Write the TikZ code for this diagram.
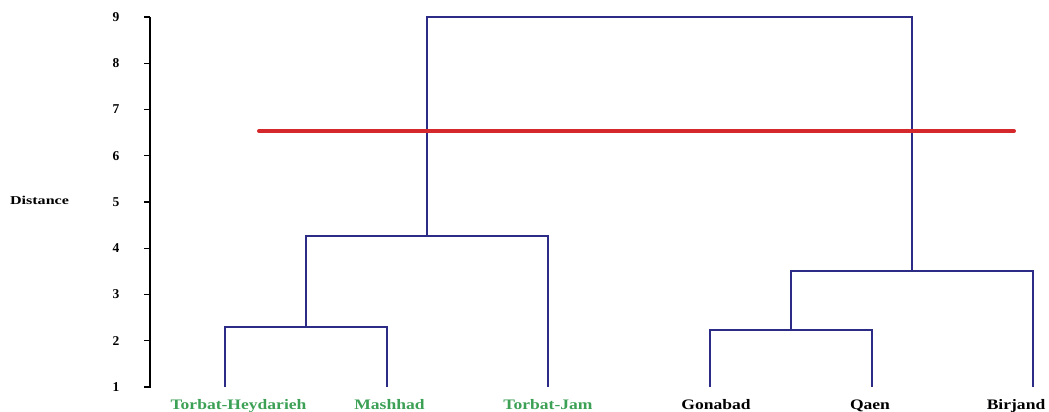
\documentclass[tikz,border=0pt]{standalone}
\usepackage{graphicx}
\usepackage{fontspec}
\setmainfont{Liberation Serif}
\definecolor{dblue}{RGB}{44,44,135}
\definecolor{lgreen}{RGB}{60,160,85}
\definecolor{cred}{RGB}{212,40,44}
\newcommand{\wlab}[1]{\scalebox{1.21}[1]{#1}}
\begin{document}
\begin{tikzpicture}[x=1pt,y=-1pt,
  tree/.style={draw=dblue,line width=1.8pt},
  axisline/.style={draw=black,line width=1.8pt},
  cutline/.style={draw=cred,line width=4pt,line cap=round},
  leaflab/.style={font=\fontsize{14.5}{15}\selectfont\bfseries,inner sep=0pt,anchor=base},
  ticklab/.style={font=\fontsize{13.5}{14}\selectfont\bfseries,inner sep=0pt,anchor=center}]
\useasboundingbox (0,0) rectangle (1049,412);
% axis
\coordinate (ax0) at (150,388);
\coordinate (ax1) at (150,17);
\draw[axisline] (ax0) -- (ax1);
\foreach \v in {1,...,9}{
  \pgfmathsetmacro{\yy}{387-(\v-1)*46.25}
  \coordinate (t\v) at (150,\yy);
  \coordinate (s\v) at (144,\yy);
  \draw[axisline,line width=1.2pt] (s\v) -- (t\v);
  \node[ticklab] (n\v) at (116,\yy) {\v};
}
\node[font=\fontsize{12}{12}\selectfont\bfseries,inner sep=0pt] (dist) at (39.5,200) {\scalebox{1.34}[1]{Distance}};
% leaves
\coordinate (L1) at (225,387);
\coordinate (L2) at (387,387);
\coordinate (L3) at (548,387);
\coordinate (L4) at (710,387);
\coordinate (L5) at (872,387);
\coordinate (L6) at (1033,387);
% merges
\coordinate (m12) at (306,327);
\coordinate (m123) at (427,236);
\coordinate (m45) at (791,330);
\coordinate (m456) at (912,271);
\coordinate (top) at (669.5,17);
\draw[tree] (L1) |- (m12) -| (L2);
\draw[tree] (m12) |- (m123) -| (L3);
\draw[tree] (L4) |- (m45) -| (L5);
\draw[tree] (m45) |- (m456) -| (L6);
\draw[tree] (m123) |- (top) -| (m456);
% cut line
\coordinate (r0) at (259,131);
\coordinate (r1) at (1014,131);
\draw[cutline] (r0) -- (r1);
% labels
\node[leaflab,text=lgreen] (lab1) at (238.5,409.5) {\wlab{Torbat-Heydarieh}};
\node[leaflab,text=lgreen] (lab2) at (389.5,409.5) {\wlab{Mashhad}};
\node[leaflab,text=lgreen] (lab3) at (548,409.5) {\wlab{Torbat-Jam}};
\node[leaflab] (lab4) at (716,409.5) {\wlab{Gonabad}};
\node[leaflab] (lab5) at (870,409.5) {\wlab{Qaen}};
\node[leaflab] (lab6) at (1016,409.5) {\wlab{Birjand}};
\end{tikzpicture}
\end{document}
